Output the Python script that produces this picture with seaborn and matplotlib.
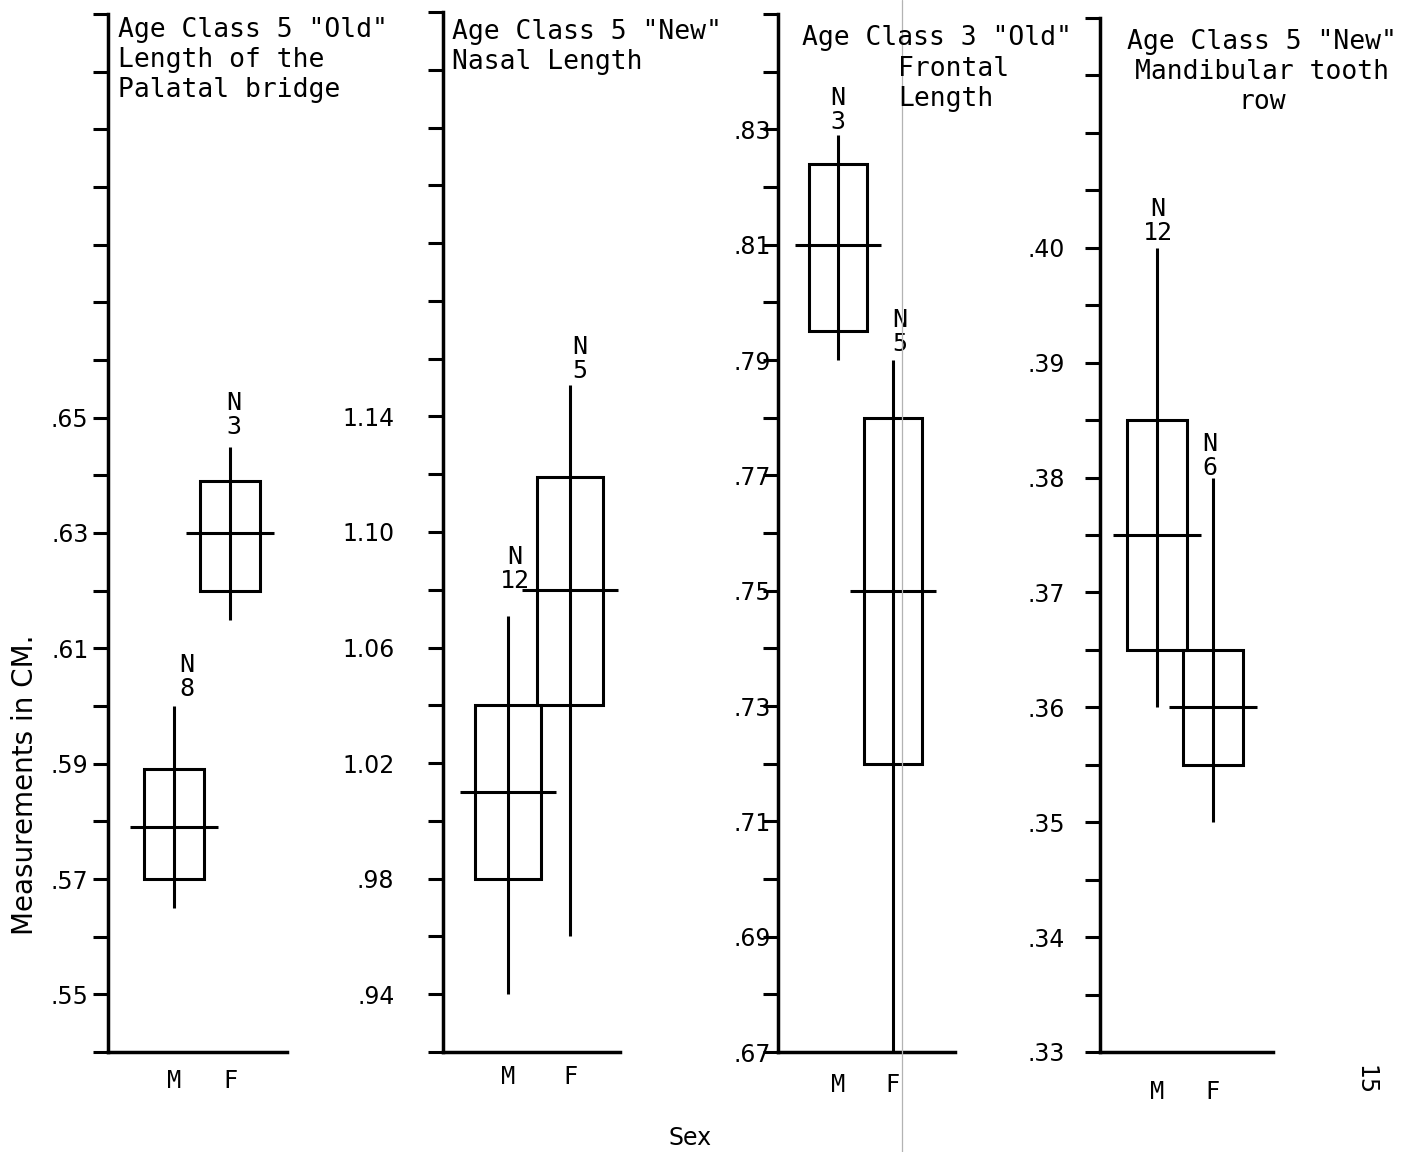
import matplotlib.pyplot as plt
import seaborn as sns
from matplotlib.lines import Line2D

sns.set_theme(style="ticks", rc={"text.color": "black", "xtick.color": "black",
                                  "ytick.color": "black", "axes.labelcolor": "black"})
plt.rcParams["font.family"] = ["DejaVu Sans"]

# Data (means, boxes, ranges, sample sizes)
sexes = ["M", "F"]
titles = [
    ['Age Class 5 "Old"\nLength of the\nPalatal bridge'],
    ['Age Class 5 "New"\nNasal Length'],
    ['Age Class 3 "Old"', 'Frontal\nLength'],
    ['Age Class 5 "New"\nMandibular tooth\nrow'],
]
n_counts = [[8, 3], [12, 5], [3, 5], [12, 6]]
means = [[0.579, 0.630], [1.010, 1.080], [0.810, 0.750], [0.375, 0.360]]
box_low = [[0.570, 0.620], [0.980, 1.040], [0.795, 0.720], [0.365, 0.355]]
box_high = [[0.589, 0.639], [1.040, 1.119], [0.824, 0.780], [0.385, 0.365]]
range_low = [[0.565, 0.615], [0.940, 0.960], [0.790, 0.670], [0.360, 0.350]]
range_high = [[0.600, 0.645], [1.071, 1.151], [0.829, 0.790], [0.400, 0.380]]
y_limits = [(0.54, 0.72), (0.92, 1.28), (0.67, 0.85), (0.33, 0.42)]
tick_steps = [0.01, 0.02, 0.01, 0.005]
label_values = [
    [0.55, 0.57, 0.59, 0.61, 0.63, 0.65],
    [0.94, 0.98, 1.02, 1.06, 1.10, 1.14],
    [0.67, 0.69, 0.71, 0.73, 0.75, 0.77, 0.79, 0.81, 0.83],
    [0.33, 0.34, 0.35, 0.36, 0.37, 0.38, 0.39, 0.40],
]

# Layout (pixels of the 1414x1152 page)
W, H = 1414, 1152
axis_left = [108, 443, 778, 1100]
axis_top = [14, 12, 14, 18]
axis_right = [287, 620, 955, 1273]
axis_bottom = 1052
m_px = [174, 508, 838, 1157]
f_px = [230, 570, 893, 1213]
ytick_pads = [3, 24, -6, 14]
xtick_pads = [12, 9, 15, 20]
title_pos = [
    [(118, 17, "left")],
    [(452, 19, "left")],
    [(802, 25, "left"), (898, 56, "left")],
    [(1262, 29, "center")],
]
# N label shifts (px) relative to top of range line
note_shift = [[(13, 5), (4, 7)], [(7, 23), (10, 2)], [(0, 1), (7, 4)], [(1, 3), (-3, -2)]]

fig = plt.figure(figsize=(W / 100, H / 100), dpi=100)
mono = "DejaVu Sans Mono"
lw = 2.2

for i in range(4):
    left = axis_left[i] / W
    bottom = 1 - axis_bottom / H
    width = (axis_right[i] - axis_left[i]) / W
    height = (axis_bottom - axis_top[i]) / H
    ax = fig.add_axes([left, bottom, width, height])

    unit = f_px[i] - m_px[i]
    ax.set_xlim(-(m_px[i] - axis_left[i]) / unit, 1 + (axis_right[i] - f_px[i]) / unit)
    lo, hi = y_limits[i]
    ax.set_ylim(lo, hi)

    for x in range(2):
        ax.bar(x, box_high[i][x] - box_low[i][x], bottom=box_low[i][x], width=1.07,
               fill=False, edgecolor="black", linewidth=lw, zorder=3)
        ax.vlines(x, range_low[i][x], range_high[i][x], color="black", linewidth=lw, zorder=3)
        ax.hlines(means[i][x], x - 0.78, x + 0.78, color="black", linewidth=lw, zorder=3)
        dx, dy = note_shift[i][x]
        ax.annotate(f"N\n{n_counts[i][x]}", (x, range_high[i][x]),
                    xytext=(dx * 0.72, dy * 0.72), textcoords="offset points",
                    ha="center", va="bottom", family=mono, fontsize=18,
                    linespacing=1.0, annotation_clip=False)

    n_ticks = int(round((hi - lo) / tick_steps[i]))
    ticks = [round(lo + k * tick_steps[i], 3) for k in range(n_ticks + 1)]
    labels = []
    for t in ticks:
        if any(abs(t - v) < 1e-6 for v in label_values[i]):
            labels.append(f"{t:.2f}".lstrip("0"))
        else:
            labels.append("")
    ax.set_yticks(ticks)
    ax.set_yticklabels(labels, fontsize=17)
    ax.tick_params(axis="y", length=11, width=lw, direction="out",
                   pad=ytick_pads[i], color="black")

    ax.set_xticks([0, 1])
    ax.set_xticklabels(sexes, fontsize=17, family=mono)
    ax.tick_params(axis="x", length=0, pad=xtick_pads[i])

    sns.despine(ax=ax)
    for side in ["left", "bottom"]:
        ax.spines[side].set_linewidth(2.5)
        ax.spines[side].set_color("black")
    ax.patch.set_alpha(0)

    for text, (tx, ty, ha) in zip(titles[i], title_pos[i]):
        fig.text(tx / W, 1 - ty / H, text, ha=ha, va="top", family=mono,
                 fontsize=19, linespacing=1.2, multialignment=ha)

fig.text(25 / W, 1 - 785 / H, "Measurements in CM.", rotation=90,
         ha="center", va="center", fontsize=20)
fig.text(690 / W, 1 - 1138 / H, "Sex", ha="center", va="center", fontsize=17)
fig.text(1365 / W, 1 - 1080 / H, "15", rotation=-90, ha="center", va="center", fontsize=17)

# faint vertical scanner streak
fig.add_artist(Line2D([902 / W, 902 / W], [0, 1], color="0.7", linewidth=0.9))

fig.savefig("out.png", dpi=100)
